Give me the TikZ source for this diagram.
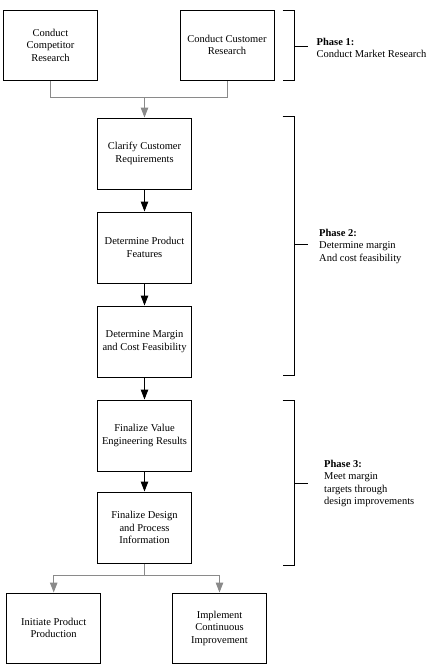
\documentclass[tikz,border=0pt]{standalone}
\usepackage{fontspec}
\setmainfont{Liberation Serif}
\usetikzlibrary{arrows.meta}
\definecolor{linegray}{HTML}{8A8A8A}
\begin{document}
\begin{tikzpicture}[x=1pt,y=-1pt,
  box/.style={draw=black,line width=1pt,minimum width=94pt,minimum height=70pt,align=center,inner sep=2pt,
    font=\fontsize{10.5}{12.5}\selectfont},
  darrow/.style={draw=black,line width=1pt,-{Triangle[length=10pt,width=7.5pt]}},
  glink/.style={draw=linegray,line width=1pt},
  garrow/.style={draw=linegray,line width=1pt,-{Triangle[length=10pt,width=7.5pt,fill=linegray]}},
  brace/.style={draw=black,line width=1pt},
  phase/.style={anchor=west,align=left,inner sep=0pt,font=\fontsize{10.5}{12.5}\selectfont}]
\useasboundingbox (0,0) rectangle (431,670);
\fill[white] (0,0) rectangle (431,670);

% top row
\node[box] (A) at (50.5,45) {Conduct\\Competitor\\Research};
\node[box] (B) at (227,45) {Conduct Customer\\Research};

% middle column
\node[box,minimum height=71pt] (C1) at (144.5,153.5) {Clarify Customer\\Requirements};
\node[box,minimum height=71pt] (C2) at (144.5,247.5) {Determine Product\\Features};
\node[box,minimum height=71pt] (C3) at (144.5,341.5) {Determine Margin\\and Cost Feasibility};
\node[box,minimum height=71pt] (C4) at (144.5,435.5) {Finalize Value\\Engineering Results};
\node[box,minimum height=71pt] (C5) at (144.5,527.5) {Finalize Design\\and Process\\Information};

% bottom row
\node[box] (D1) at (53.7,628) {Initiate Product\\Production};
\node[box] (D2) at (219.5,628) {Implement\\Continuous\\Improvement};

% connectors
\coordinate (m1) at (144.5,97.7);
\draw[glink] (A.south) |- (m1) -| (B.south);
\draw[garrow] (m1) -- (C1.north);
\draw[darrow] (C1.south) -- (C2.north);
\draw[darrow] (C2.south) -- (C3.north);
\draw[darrow] (C3.south) -- (C4.north);
\draw[darrow] (C4.south) -- (C5.north);
\coordinate (m2) at (144.5,575.7);
\draw[glink] (C5.south) -- (m2);
\draw[garrow] (m2) -| (D1.north);
\draw[garrow] (m2) -| (D2.north);

% brackets
\draw[brace] (282.7,10) -- (294.3,10) -- (294.3,80) -- (282.7,80);
\coordinate (t1) at (308,46.5);
\draw[brace] (294.3,46.5) -- (t1);
\node[phase] (P1) at (316.5,48) {\textbf{Phase 1:}\\Conduct Market Research};

\draw[brace] (282.7,116) -- (294.3,116) -- (294.3,375) -- (282.7,375);
\coordinate (t2) at (308,244.5);
\draw[brace] (294.3,244.5) -- (t2);
\node[phase] (P2) at (319,246) {\textbf{Phase 2:}\\Determine margin\\And cost feasibility};

\draw[brace] (282.7,400) -- (294.3,400) -- (294.3,565) -- (282.7,565);
\coordinate (t3) at (308,483);
\draw[brace] (294.3,483) -- (t3);
\node[phase] (P3) at (324,483.5) {\textbf{Phase 3:}\\Meet margin\\targets through\\design improvements};
\end{tikzpicture}
\end{document}
